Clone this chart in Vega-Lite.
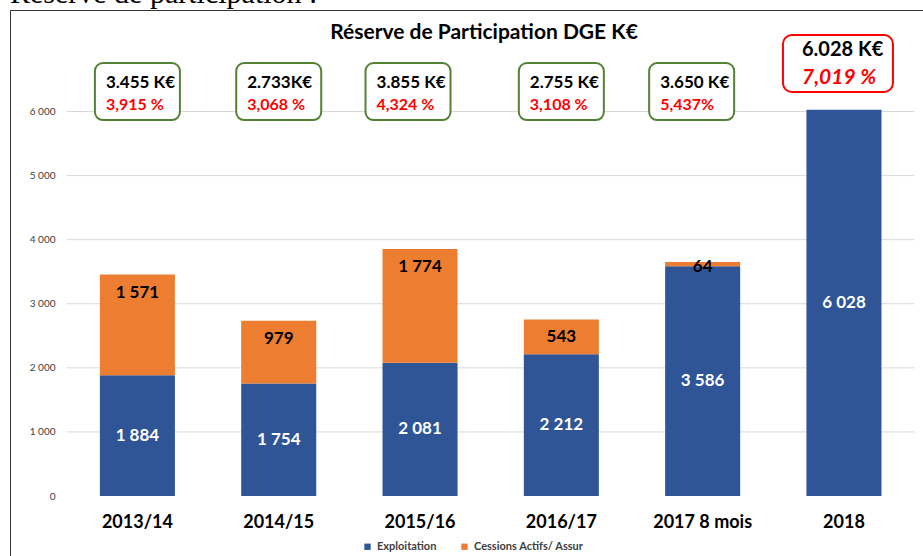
{
  "$schema": "https://vega.github.io/schema/vega-lite/v6.json",
  "width": 913,
  "height": 546,
  "autosize": {"type": "none"},
  "padding": {"left": 10, "top": 10, "right": 0, "bottom": 0},
  "background": "white",
  "title": {"text": "Réserve de participation :", "anchor": "start", "frame": "group", "font": "Liberation Serif", "fontSize": 30, "fontWeight": "normal", "color": "#000000", "offset": -23, "baseline": "alphabetic"},
  "datasets": {
    "valeurs": [
      {"periode": "2013/14", "serie": "Exploitation", "montant": 1884},
      {"periode": "2013/14", "serie": "Cessions Actifs/ Assur", "montant": 1571},
      {"periode": "2014/15", "serie": "Exploitation", "montant": 1754},
      {"periode": "2014/15", "serie": "Cessions Actifs/ Assur", "montant": 979},
      {"periode": "2015/16", "serie": "Exploitation", "montant": 2081},
      {"periode": "2015/16", "serie": "Cessions Actifs/ Assur", "montant": 1774},
      {"periode": "2016/17", "serie": "Exploitation", "montant": 2212},
      {"periode": "2016/17", "serie": "Cessions Actifs/ Assur", "montant": 543},
      {"periode": "2017 8 mois", "serie": "Exploitation", "montant": 3586},
      {"periode": "2017 8 mois", "serie": "Cessions Actifs/ Assur", "montant": 64},
      {"periode": "2018", "serie": "Exploitation", "montant": 6028}
    ],
    "encadres": [
      {"periode": "2013/14", "total": "3.455 K€", "taux": "3,915 %"},
      {"periode": "2014/15", "total": "2.733K€", "taux": "3,068 %"},
      {"periode": "2015/16", "total": "3.855 K€", "taux": "4,324 %"},
      {"periode": "2016/17", "total": "2.755 K€", "taux": "3,108 %"},
      {"periode": "2017 8 mois", "total": "3.650 K€", "taux": "5,437%"},
      {"periode": "2018", "total": "6.028 K€", "taux": "7,019 %"}
    ],
    "graduations": [
      {"niveau": 1000}, {"niveau": 2000}, {"niveau": 3000},
      {"niveau": 4000}, {"niveau": 5000}, {"niveau": 6000}
    ]
  },
  "layer": [
    {
      "data": {"name": "graduations"},
      "mark": {"type": "rule", "color": "#d9d9d9", "strokeWidth": 1, "xOffset": -70.6, "x2Offset": 70.6},
      "encoding": {
        "x": {"datum": "2013/14", "type": "nominal", "title": null},
        "x2": {"datum": "2018"},
        "y": {"field": "niveau", "type": "quantitative", "title": null}
      }
    },
    {
      "data": {"name": "valeurs"},
      "transform": [
        {"stack": "montant", "groupby": ["periode"], "sort": [{"field": "serie", "order": "descending"}], "as": ["bas", "haut"]}
      ],
      "mark": {"type": "bar"},
      "encoding": {
        "x": {
          "field": "periode", "type": "nominal", "sort": null, "title": null,
          "scale": {"domain": ["2013/14", "2014/15", "2015/16", "2016/17", "2017 8 mois", "2018"], "paddingInner": 0.469, "paddingOuter": 0.465, "align": 0.684},
          "axis": {"orient": "bottom", "offset": -60, "bandPosition": 0.5, "domain": false, "ticks": false, "tickSize": 0, "labelPadding": 26, "labelFont": "Lato", "labelFontSize": 18, "labelFontWeight": "bold", "labelColor": "#000000", "labelAngle": 0, "labelAlign": "center", "title": null, "grid": false}
        },
        "y": {
          "field": "bas", "type": "quantitative", "title": null,
          "scale": {"domain": [-936, 7584], "nice": false, "zero": false},
          "axis": {"orient": "left", "offset": -57, "domain": false, "ticks": false, "tickSize": 0, "labelPadding": 12, "values": [0, 1000, 2000, 3000, 4000, 5000, 6000], "labelExpr": "format(datum.value, ',')", "labelFont": "Lato", "labelFontSize": 10, "labelColor": "#404040", "grid": false, "title": null}
        },
        "y2": {"field": "haut"},
        "color": {
          "field": "serie", "type": "nominal",
          "scale": {"domain": ["Exploitation", "Cessions Actifs/ Assur"], "range": ["#2f5597", "#ed7d31"]},
          "legend": {"orient": "none", "legendX": 352, "legendY": 531, "direction": "horizontal", "title": null, "symbolType": "square", "symbolSize": 40, "symbolStrokeWidth": 0, "labelFont": "Lato", "labelFontSize": 11, "labelFontWeight": "bold", "labelColor": "#404040", "columnPadding": 22, "labelOffset": 4, "padding": 0}
        }
      }
    },
    {
      "data": {"name": "valeurs"},
      "transform": [
        {"stack": "montant", "groupby": ["periode"], "sort": [{"field": "serie", "order": "descending"}], "as": ["bas", "haut"]},
        {"filter": "datum.serie === 'Exploitation'"},
        {"fold": ["bas", "haut"], "as": ["borne", "pos"]},
        {"aggregate": [{"op": "mean", "field": "pos", "as": "milieu"}, {"op": "max", "field": "montant", "as": "montant"}], "groupby": ["periode"]}
      ],
      "mark": {"type": "text", "color": "#ffffff", "font": "Lato", "fontWeight": "bold", "fontSize": 17, "baseline": "middle"},
      "encoding": {
        "x": {"field": "periode", "type": "nominal", "title": null},
        "y": {"field": "milieu", "type": "quantitative", "title": null},
        "text": {"field": "montant", "type": "quantitative", "format": ","}
      }
    },
    {
      "data": {"name": "valeurs"},
      "transform": [
        {"stack": "montant", "groupby": ["periode"], "sort": [{"field": "serie", "order": "descending"}], "as": ["bas", "haut"]},
        {"filter": "datum.serie !== 'Exploitation'"}
      ],
      "mark": {"type": "text", "color": "#000000", "font": "Lato", "fontWeight": "bold", "fontSize": 17, "baseline": "alphabetic", "dy": {"expr": "datum.montant < 300 ? 10 : 23"}},
      "encoding": {
        "x": {"field": "periode", "type": "nominal", "title": null},
        "y": {"field": "haut", "type": "quantitative", "title": null},
        "text": {"field": "montant", "type": "quantitative", "format": ","}
      }
    },
    {
      "data": {"name": "encadres"},
      "transform": [{"filter": "datum.periode !== '2018'"}],
      "mark": {"type": "bar", "width": 85, "cornerRadius": 8, "fill": "#ffffff", "stroke": "#548235", "strokeWidth": 2, "xOffset": {"expr": "datum.periode === '2015/16' ? -12 : (datum.periode === '2017 8 mois' ? -11 : 0)"}},
      "encoding": {
        "x": {"field": "periode", "type": "nominal", "title": null},
        "y": {"datum": 5867, "type": "quantitative", "title": null},
        "y2": {"datum": 6757}
      }
    },
    {
      "data": {"name": "encadres"},
      "transform": [{"filter": "datum.periode !== '2018'"}],
      "mark": {"type": "text", "align": "left", "baseline": "alphabetic", "font": "Lato", "fontWeight": "bold", "fontSize": 17, "color": "#000000", "dx": -31.5, "xOffset": {"expr": "datum.periode === '2015/16' ? -12 : (datum.periode === '2017 8 mois' ? -11 : 0)"}},
      "encoding": {
        "x": {"field": "periode", "type": "nominal", "title": null},
        "y": {"datum": 6367, "type": "quantitative", "title": null},
        "text": {"field": "total", "type": "nominal"}
      }
    },
    {
      "data": {"name": "encadres"},
      "transform": [{"filter": "datum.periode !== '2018'"}],
      "mark": {"type": "text", "align": "left", "baseline": "alphabetic", "font": "Lato", "fontWeight": "bold", "fontSize": 16, "color": "#ff0000", "dx": -31.5, "xOffset": {"expr": "datum.periode === '2015/16' ? -12 : (datum.periode === '2017 8 mois' ? -11 : 0)"}},
      "encoding": {
        "x": {"field": "periode", "type": "nominal", "title": null},
        "y": {"datum": 6023, "type": "quantitative", "title": null},
        "text": {"field": "taux", "type": "nominal"}
      }
    },
    {
      "data": {"name": "encadres"},
      "transform": [{"filter": "datum.periode === '2018'"}],
      "mark": {"type": "bar", "width": 110, "cornerRadius": 9, "fill": "#ffffff", "stroke": "#ff0000", "strokeWidth": 2, "xOffset": -6},
      "encoding": {
        "x": {"field": "periode", "type": "nominal", "title": null},
        "y": {"datum": 6304, "type": "quantitative", "title": null},
        "y2": {"datum": 7194}
      }
    },
    {
      "data": {"name": "encadres"},
      "transform": [{"filter": "datum.periode === '2018'"}],
      "mark": {"type": "text", "align": "left", "baseline": "alphabetic", "font": "Lato", "fontWeight": "bold", "fontSize": 20, "color": "#000000", "dx": -42},
      "encoding": {
        "x": {"field": "periode", "type": "nominal", "title": null},
        "y": {"datum": 6874, "type": "quantitative", "title": null},
        "text": {"field": "total", "type": "nominal"}
      }
    },
    {
      "data": {"name": "encadres"},
      "transform": [{"filter": "datum.periode === '2018'"}],
      "mark": {"type": "text", "align": "left", "baseline": "alphabetic", "font": "Lato", "fontWeight": "bold", "fontStyle": "italic", "fontSize": 21, "color": "#ff0000", "dx": -42},
      "encoding": {
        "x": {"field": "periode", "type": "nominal", "title": null},
        "y": {"datum": 6429, "type": "quantitative", "title": null},
        "text": {"field": "taux", "type": "nominal"}
      }
    },
    {
      "data": {"values": [{"titre": "Réserve de Participation DGE K€"}]},
      "mark": {"type": "text", "font": "Lato", "fontWeight": "bold", "fontSize": 21, "align": "center", "baseline": "alphabetic", "dx": 64, "color": "#000000"},
      "encoding": {
        "x": {"datum": "2015/16", "type": "nominal", "title": null},
        "y": {"datum": 7131, "type": "quantitative", "title": null},
        "text": {"field": "titre", "type": "nominal"}
      }
    }
  ],
  "config": {
    "font": "Lato",
    "view": {"stroke": "#333333", "strokeWidth": 1},
    "locale": {"number": {"decimal": ",", "thousands": " ", "grouping": [3], "currency": ["", " €"]}}
  }
}
